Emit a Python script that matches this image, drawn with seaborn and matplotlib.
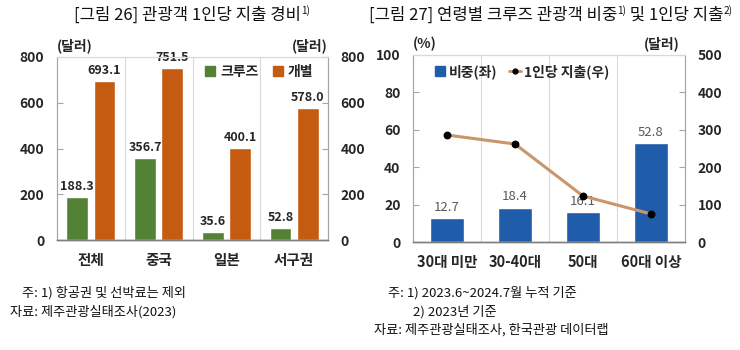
import matplotlib
matplotlib.use("Agg")
import matplotlib.pyplot as plt
from matplotlib.lines import Line2D
import seaborn as sns
import pandas as pd

# ---------------- data ----------------
regions = ["전체", "중국", "일본", "서구권"]
cruise = [188.3, 356.7, 35.6, 52.8]
individual = [693.1, 751.5, 400.1, 578.0]
series_names = ["크루즈", "개별"]

ages = ["30대 미만", "30-40대", "50대", "60대 이상"]
share = [12.7, 18.4, 16.1, 52.8]
spend = [286, 262, 123, 75]

left_ticks = [0, 200, 400, 600, 800]
share_ticks = [0, 20, 40, 60, 80, 100]
spend_ticks = [0, 100, 200, 300, 400, 500]

# ---------------- style ----------------
sns.set_style("white")
plt.rcParams["font.family"] = ["Noto Sans CJK KR", "DejaVu Sans"]
plt.rcParams["axes.unicode_minus"] = False

GREEN = "#548235"
ORANGE = "#C55A11"
BLUE = "#1F5CAA"
TAN = "#C9966B"
GRID = "#D9D9D9"
SPINE = "#A6A6A6"

W, H = 740, 350
fig = plt.figure(figsize=(W / 100, H / 100), dpi=100)
fig.patch.set_facecolor("white")


def style_axes(ax, ax2):
    for a in (ax, ax2):
        for s in ["top", "left", "right"]:
            a.spines[s].set_color(GRID if s == "top" else SPINE)
            a.spines[s].set_linewidth(0.8)
        a.spines["bottom"].set_color("#7F7F7F")
        a.spines["bottom"].set_linewidth(1.0)
        a.tick_params(axis="y", direction="in", length=4, color=SPINE,
                      labelsize=10, pad=9)
        for lbl in a.get_yticklabels():
            lbl.set_fontweight("bold")
    ax.tick_params(axis="x", length=0, labelsize=10.5, pad=9)
    for lbl in ax.get_xticklabels():
        lbl.set_fontweight("bold")
    ax2.tick_params(axis="x", length=0)
    for xv in [0.5, 1.5, 2.5]:
        ax.axvline(xv, color=GRID, lw=0.8, zorder=0)


# ---------------- left chart ----------------
axL = fig.add_axes([57 / W, 1 - 240 / H, 271 / W, 183 / H])
dfL = pd.DataFrame({
    "region": regions * 2,
    "value": cruise + individual,
    "series": [series_names[0]] * 4 + [series_names[1]] * 4,
})
sns.barplot(data=dfL, x="region", y="value", hue="series",
            palette={series_names[0]: GREEN, series_names[1]: ORANGE},
            width=0.8, gap=0.2, saturation=1, ax=axL, legend=False, zorder=2)
axL.set_xlim(-0.5, 3.5)
axL.set_ylim(0, 800)
axL.set_yticks(left_ticks)
axL.set_xlabel("")
axL.set_ylabel("")
for c in axL.containers:
    axL.bar_label(c, fmt="%.1f", padding=3, fontsize=9, fontweight="bold")
axL2 = axL.twinx()
axL2.set_ylim(0, 800)
axL2.set_yticks(left_ticks)
style_axes(axL, axL2)
axL.text(0.0, 1.02, "(달러)", transform=axL.transAxes, ha="left",
         va="bottom", fontsize=10, fontweight="bold")
axL.text(1.0, 1.02, "(달러)", transform=axL.transAxes, ha="right",
         va="bottom", fontsize=10, fontweight="bold")
hL = [Line2D([], [], marker="s", ls="", color=GREEN, markersize=7),
      Line2D([], [], marker="s", ls="", color=ORANGE, markersize=7)]
axL2.legend(hL, series_names, loc="center", bbox_to_anchor=(0.745, 0.92),
            ncol=2, frameon=False, handlelength=0.8, handletextpad=0.3,
            columnspacing=1.0, prop={"size": 10, "weight": "bold"})

# ---------------- right chart ----------------
axR = fig.add_axes([413 / W, 1 - 242 / H, 272 / W, 187 / H])
sns.barplot(x=ages, y=share, color=BLUE, saturation=1, width=0.5,
            ax=axR, zorder=2)
axR.set_xlim(-0.5, 3.5)
axR.set_ylim(0, 100)
axR.set_yticks(share_ticks)
for c in axR.containers:
    axR.bar_label(c, fmt="%.1f", padding=3, fontsize=9.5, color="#595959")
axR2 = axR.twinx()
sns.pointplot(x=ages, y=spend, ax=axR2, color=TAN, markers="o",
              markersize=4, linewidth=2.2, errorbar=None,
              markerfacecolor="black", markeredgecolor="black")
axR2.set_xlim(-0.5, 3.5)
axR2.set_ylim(0, 500)
axR2.set_yticks(spend_ticks)
axR2.set_ylabel("")
style_axes(axR, axR2)
axR.text(0.0, 1.02, "(%)", transform=axR.transAxes, ha="left",
         va="bottom", fontsize=10, fontweight="bold")
axR.text(0.98, 1.02, "(달러)", transform=axR.transAxes, ha="right",
         va="bottom", fontsize=10, fontweight="bold")
hR = [Line2D([], [], marker="s", ls="", color=BLUE, markersize=7),
      Line2D([], [], marker="o", color=TAN, lw=2, markersize=3.5,
             markerfacecolor="black", markeredgecolor="black")]
axR2.legend(hR, ["비중(좌)", "1인당 지출(우)"], loc="center left",
            bbox_to_anchor=(0.03, 0.91), ncol=2, frameon=False,
            handlelength=0.9, handletextpad=0.2, columnspacing=0.8,
            prop={"size": 10, "weight": "bold"})

# ---------------- titles ----------------
renderer = fig.canvas.get_renderer()


def rich_title(pieces, cx_px, base_px, size):
    texts = []
    for s, sup in pieces:
        fs = size * 0.6 if sup else size
        yy = 1 - (base_px - (6 if sup else 0)) / H
        t = fig.text(0, yy, s, fontsize=fs, va="baseline", ha="left",
                     color="#111111")
        texts.append(t)
    widths = [t.get_window_extent(renderer).width for t in texts]
    x = cx_px - sum(widths) / 2
    for t, w in zip(texts, widths):
        t.set_x(x / W)
        x += w


rich_title([("[그림 26] 관광객 1인당 지출 경비", False), ("1)", True)],
           192, 20, 12)
rich_title([("[그림 27] 연령별 크루즈 관광객 비중", False), ("1)", True),
            (" 및 1인당 지출", False), ("2)", True)], 551, 20, 12)

# ---------------- footnotes ----------------
fs = 9.5
fig.text(22 / W, 1 - 293 / H, "주: 1) 항공권 및 선박료는 제외", fontsize=fs,
         va="center", color="#111111")
fig.text(10 / W, 1 - 312 / H, "자료: 제주관광실태조사(2023)", fontsize=fs,
         va="center", color="#111111")
fig.text(388 / W, 1 - 293 / H, "주: 1) 2023.6~2024.7월 누적 기준", fontsize=fs,
         va="center", color="#111111")
fig.text(413 / W, 1 - 312 / H, "2) 2023년 기준", fontsize=fs,
         va="center", color="#111111")
fig.text(374 / W, 1 - 330 / H, "자료: 제주관광실태조사, 한국관광 데이터랩",
         fontsize=fs, va="center", color="#111111")

fig.savefig("out.png", dpi=100, facecolor="white")
